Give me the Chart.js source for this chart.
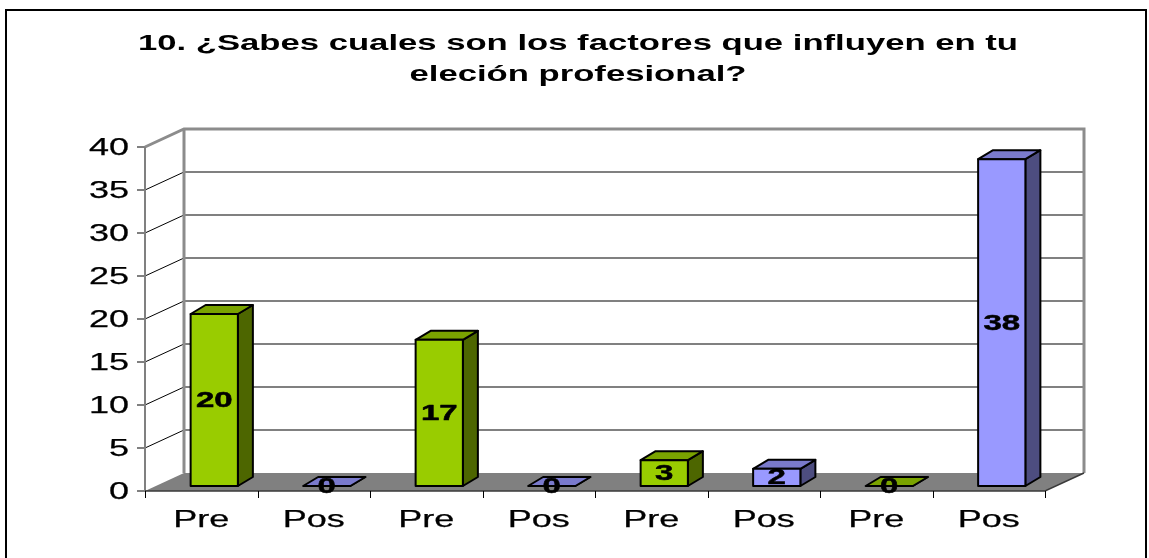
<!DOCTYPE html>
<html lang="es">
<head>
<meta charset="UTF-8">
<title>Factores de elección profesional</title>
<style>
    body {
        margin: 0;
        background: #ffffff;
    }
    #wrap {
        width: 1149px;
        height: 558px;
    }
</style>
<script src="https://cdn.jsdelivr.net/npm/chart.js"></script>
</head>
<body>
<div id="wrap">
    <canvas id="chart" width="1149" height="558"></canvas>
</div>
<script>
const categories = ['Pre', 'Pos', 'Pre', 'Pos', 'Pre', 'Pos', 'Pre', 'Pos'];
const values = [20, 0, 17, 0, 3, 2, 0, 38];
const yTicks = [0, 5, 10, 15, 20, 25, 30, 35, 40];
const titleLines = ['10. ¿Sabes cuales son los factores que influyen en tu', 'eleción profesional?'];

// face colours per group: front, side, top
const faces = {
    Pre: ['#99cc00', '#4d6600', '#7aa300'],
    Pos: ['#9999ff', '#4d4d80', '#7a7acc']
};

const FONT = '"Liberation Sans", Arial, sans-serif';
const WALL = { dx: 39, dy: -18 };   // depth of the back wall
const BAR = { dx: 13, dy: -5, depth: 15, rise: -9 };
const SX = 1.5;                      // horizontal stretch of the text

function wideText(ctx, text, x, y, font, align, sx, weight) {
    ctx.save();
    ctx.font = font;
    ctx.translate(x, y);
    ctx.scale(sx, 1);
    ctx.textAlign = align;
    ctx.fillStyle = '#000';
    ctx.fillText(text, 0, 0);
    if (weight) {
        ctx.strokeStyle = '#000';
        ctx.lineWidth = weight;
        ctx.strokeText(text, 0, 0);
    }
    ctx.restore();
}

function poly(ctx, pts, fill) {
    ctx.beginPath();
    ctx.moveTo(pts[0][0], pts[0][1]);
    for (let i = 1; i < pts.length; i++) ctx.lineTo(pts[i][0], pts[i][1]);
    ctx.closePath();
    ctx.fillStyle = fill;
    ctx.fill();
    ctx.stroke();
}

const wallPlugin = {
    id: 'wall',
    beforeDatasetsDraw(chart) {
        const ctx = chart.ctx;
        const a = chart.chartArea;
        const y = chart.scales.y;
        ctx.save();

        // floor
        ctx.fillStyle = '#808080';
        ctx.beginPath();
        ctx.moveTo(a.left, a.bottom);
        ctx.lineTo(a.right, a.bottom);
        ctx.lineTo(a.right + WALL.dx, a.bottom + WALL.dy);
        ctx.lineTo(a.left + WALL.dx, a.bottom + WALL.dy);
        ctx.closePath();
        ctx.fill();

        // grid lines on the back wall and their slants on the side wall
        yTicks.forEach(v => {
            const py = y.getPixelForValue(v);
            if (v > 0 && v < 40) {
                ctx.strokeStyle = '#808080';
                ctx.lineWidth = 2;
                ctx.beginPath();
                ctx.moveTo(a.left + WALL.dx, py + WALL.dy);
                ctx.lineTo(a.right + WALL.dx, py + WALL.dy);
                ctx.stroke();

                ctx.strokeStyle = '#000';
                ctx.lineWidth = 1;
                ctx.beginPath();
                ctx.moveTo(a.left, py);
                ctx.lineTo(a.left + WALL.dx, py + WALL.dy);
                ctx.stroke();
            }
            // tick mark and label on the front axis
            ctx.strokeStyle = '#808080';
            ctx.lineWidth = 2;
            ctx.beginPath();
            ctx.moveTo(a.left - 8, py);
            ctx.lineTo(a.left, py);
            ctx.stroke();
            ctx.textBaseline = 'middle';
            wideText(ctx, String(v), a.left - 16, py + 1, '24px ' + FONT, 'right', SX, 0.25);
        });

        // outline of the back wall
        ctx.strokeStyle = '#8c8c8c';
        ctx.lineWidth = 3;
        ctx.beginPath();
        ctx.moveTo(a.left, a.top);
        ctx.lineTo(a.left + WALL.dx, a.top + WALL.dy);
        ctx.lineTo(a.right + WALL.dx, a.top + WALL.dy);
        ctx.lineTo(a.right + WALL.dx, a.bottom + WALL.dy);
        ctx.moveTo(a.left + WALL.dx, a.top + WALL.dy);
        ctx.lineTo(a.left + WALL.dx, a.bottom + WALL.dy);
        ctx.stroke();

        // front vertical axis
        ctx.strokeStyle = '#808080';
        ctx.lineWidth = 2;
        ctx.beginPath();
        ctx.moveTo(a.left, a.top);
        ctx.lineTo(a.left, a.bottom);
        ctx.stroke();

        // front horizontal axis and right floor edge
        ctx.strokeStyle = '#3a3a3a';
        ctx.lineWidth = 1.5;
        ctx.beginPath();
        ctx.moveTo(a.left, a.bottom);
        ctx.lineTo(a.right, a.bottom);
        ctx.lineTo(a.right + WALL.dx, a.bottom + WALL.dy);
        ctx.stroke();

        // category ticks and labels
        const step = (a.right - a.left) / categories.length;
        ctx.strokeStyle = '#000';
        ctx.lineWidth = 1;
        for (let i = 0; i <= categories.length; i++) {
            const px = Math.round(a.left + i * step) + 0.5;
            ctx.beginPath();
            ctx.moveTo(px, a.bottom);
            ctx.lineTo(px, a.bottom + 7);
            ctx.stroke();
        }
        ctx.textBaseline = 'alphabetic';
        const xs = chart.scales.x;
        categories.forEach((c, i) => {
            wideText(ctx, c, xs.getPixelForValue(i), 527, '24px ' + FONT, 'center', SX, 0.25);
        });
        ctx.restore();
    },
    afterDatasetsDraw(chart) {
        const ctx = chart.ctx;
        const meta = chart.getDatasetMeta(0);
        ctx.save();
        ctx.strokeStyle = '#000';
        ctx.lineWidth = 2;
        ctx.lineJoin = 'round';
        meta.data.forEach((bar, i) => {
            const p = bar.getProps(['x', 'y', 'base', 'width'], true);
            const c = faces[categories[i]];
            const x0 = p.x - p.width / 2 + BAR.dx;
            const x1 = p.x + p.width / 2 + BAR.dx;
            const yT = p.y + BAR.dy;
            const yB = p.base + BAR.dy;
            const d = BAR.depth, r = BAR.rise;
            // side, top, front
            poly(ctx, [[x1, yT], [x1 + d, yT + r], [x1 + d, yB + r], [x1, yB]], c[1]);
            poly(ctx, [[x0, yT], [x1, yT], [x1 + d, yT + r], [x0 + d, yT + r]], c[2]);
            if (yB - yT > 0) poly(ctx, [[x0, yT], [x1, yT], [x1, yB], [x0, yB]], c[0]);
            // value label in the middle of the front face
            ctx.textBaseline = 'middle';
            wideText(ctx, String(values[i]), (x0 + x1) / 2, (yT + yB) / 2 + 1, 'bold 22px ' + FONT, 'center', 1.5, 0.5);
        });
        ctx.restore();
    },
    afterDraw(chart) {
        const ctx = chart.ctx;
        ctx.save();
        // title, two centred lines
        ctx.font = 'bold 22px ' + FONT;
        const sx = 880 / ctx.measureText(titleLines[0]).width;
        ctx.textBaseline = 'alphabetic';
        wideText(ctx, titleLines[0], 578, 50, 'bold 22px ' + FONT, 'center', sx);
        wideText(ctx, titleLines[1], 578, 81, 'bold 22px ' + FONT, 'center', sx);
        // frame
        ctx.strokeStyle = '#000';
        ctx.lineWidth = 2;
        ctx.strokeRect(6, 10, 1140, 560);
        ctx.restore();
    }
};

new Chart(document.getElementById('chart'), {
    type: 'bar',
    data: {
        labels: categories,
        datasets: [{
            data: values,
            backgroundColor: 'rgba(0,0,0,0)',
            borderWidth: 0,
            barPercentage: 0.42,
            categoryPercentage: 1
        }]
    },
    options: {
        responsive: false,
        animation: false,
        events: [],
        layout: {
            padding: { left: 145, right: 104, top: 147, bottom: 67 }
        },
        plugins: {
            legend: { display: false },
            title: { display: false },
            tooltip: { enabled: false }
        },
        scales: {
            x: { display: false },
            y: { display: false, min: 0, max: 40 }
        }
    },
    plugins: [wallPlugin]
});
</script>
</body>
</html>
